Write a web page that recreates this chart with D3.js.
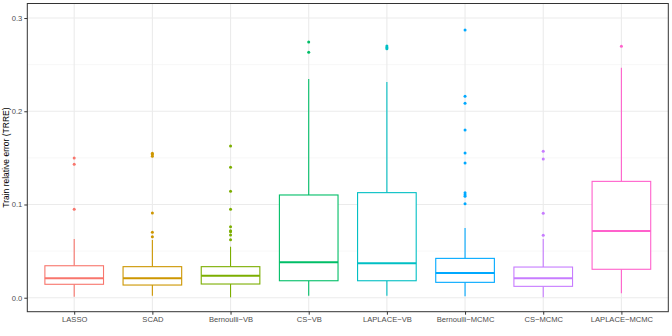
<!DOCTYPE html>
<html><head><meta charset="utf-8">
<script src="https://cdn.jsdelivr.net/npm/d3@7"></script>
<style>body{margin:0;background:#fff}svg{display:block}text{font-family:"Liberation Sans",Arial,sans-serif}</style>
</head><body>
<svg id="c" width="672" height="336"></svg>
<script>
const categories = ["LASSO","SCAD","Bernoulli\u2212VB","CS\u2212VB","LAPLACE\u2212VB","Bernoulli\u2212MCMC","CS\u2212MCMC","LAPLACE\u2212MCMC"];
const colors = ["#F8766D","#CD9600","#7CAE00","#00BE67","#00BFC4","#00A9FF","#C77CFF","#FF61CC"];
const whiskerLow  = [0.0011,0.0021,0.0004,0.0021,0.0021,0.0015,0.0004,0.0047];
const q1          = [0.0144,0.0136,0.0147,0.0182,0.0182,0.0165,0.0122,0.0305];
const median      = [0.0208,0.0208,0.0236,0.0380,0.0369,0.0265,0.0208,0.0715];
const q3          = [0.0343,0.0333,0.0333,0.1102,0.1127,0.0422,0.0329,0.1248];
const whiskerHigh = [0.0630,0.0619,0.0547,0.2346,0.2314,0.0748,0.0630,0.2467];
const outliers = [
  [0.1498,0.1431,0.0948],
  [0.1550,0.1535,0.1517,0.0908,0.0701,0.0654],
  [0.1627,0.1399,0.1141,0.0948,0.0762,0.0719,0.0708,0.0673,0.0622],
  [0.2743,0.2632],
  [0.2700,0.2685,0.2670],
  [0.2871,0.2160,0.2085,0.1799,0.1552,0.1445,0.1126,0.1105,0.1088,0.1008],
  [0.1570,0.1488,0.0905,0.0669],
  [0.2697]
];
const yTicks = [0, 0.1, 0.2, 0.3];
const yMinor = [0.05, 0.15, 0.25];
const yTitle = "Train relative error (TRRE)";

const svg = d3.select("#c");
const L = 27.3, R = 668.3, T = 3.5, B = 311.7;
const x = d3.scalePoint().domain(categories).range([L, R]).padding(0.6);
const y = d3.scaleLinear().domain([-0.015, 0.3156]).range([B, T]);
const bw = x.step() * 0.75;

// panel bg
svg.append("rect").attr("x", L).attr("y", T).attr("width", R - L).attr("height", B - T).attr("fill", "#fff");
// grid
const g = svg.append("g");
g.selectAll(".mn").data(yMinor).join("line").attr("x1", L).attr("x2", R)
  .attr("y1", d => y(d)).attr("y2", d => y(d)).attr("stroke", "#F2F2F2").attr("stroke-width", 0.6);
g.selectAll(".mj").data(yTicks).join("line").attr("x1", L).attr("x2", R)
  .attr("y1", d => y(d)).attr("y2", d => y(d)).attr("stroke", "#EBEBEB").attr("stroke-width", 1.1);
g.selectAll(".vx").data(categories).join("line").attr("y1", T).attr("y2", B)
  .attr("x1", d => x(d)).attr("x2", d => x(d)).attr("stroke", "#EBEBEB").attr("stroke-width", 1.1);

// boxes
categories.forEach((c, i) => {
  const cx = x(c), col = colors[i];
  const bg = svg.append("g");
  bg.append("line").attr("x1", cx).attr("x2", cx).attr("y1", y(q3[i])).attr("y2", y(whiskerHigh[i])).attr("stroke", col).attr("stroke-width", 1.1);
  bg.append("line").attr("x1", cx).attr("x2", cx).attr("y1", y(q1[i])).attr("y2", y(whiskerLow[i])).attr("stroke", col).attr("stroke-width", 1.1);
  bg.append("rect").attr("x", cx - bw / 2).attr("y", y(q3[i])).attr("width", bw).attr("height", y(q1[i]) - y(q3[i]))
    .attr("fill", "#fff").attr("stroke", col).attr("stroke-width", 1.1);
  bg.append("line").attr("x1", cx - bw / 2).attr("x2", cx + bw / 2).attr("y1", y(median[i])).attr("y2", y(median[i])).attr("stroke", col).attr("stroke-width", 2);
  bg.selectAll("circle").data(outliers[i]).join("circle").attr("cx", cx).attr("cy", d => y(d)).attr("r", 1.5).attr("fill", col);
});

// border
svg.append("rect").attr("x", L).attr("y", T).attr("width", R - L).attr("height", B - T).attr("fill", "none").attr("stroke", "#333").attr("stroke-width", 1);

// axes
const yAxis = svg.append("g").attr("transform", `translate(${L},0)`)
  .call(d3.axisLeft(y).tickValues(yTicks).tickFormat(d3.format(".1f")).tickSize(3).tickPadding(2));
const xAxis = svg.append("g").attr("transform", `translate(0,${B})`)
  .call(d3.axisBottom(x).tickSize(3).tickPadding(2));
[yAxis, xAxis].forEach(a => {
  a.select(".domain").remove();
  a.selectAll(".tick line").attr("stroke", "#333").attr("stroke-width", 1);
  a.selectAll(".tick text").attr("fill", "#4D4D4D").style("font-size", "7.6px");
});

svg.append("text").attr("transform", `translate(8.5,${(T + B) / 2}) rotate(-90)`)
  .attr("text-anchor", "middle").attr("fill", "#000").style("font-size", "8.5px").text(yTitle);
</script>
</body></html>
